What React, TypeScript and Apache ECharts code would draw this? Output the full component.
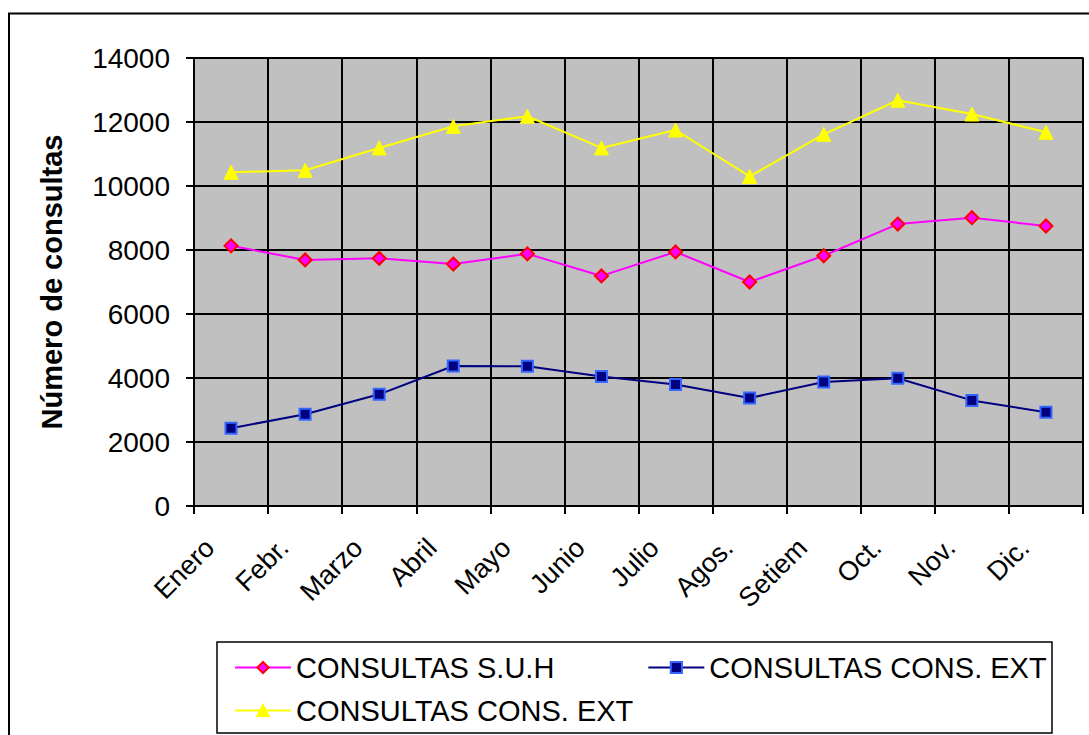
import React, { useEffect, useRef } from "react";
import * as echarts from "echarts";

const months = ["Enero", "Febr.", "Marzo", "Abril", "Mayo", "Junio", "Julio", "Agos.", "Setiem", "Oct.", "Nov.", "Dic."];
const consultasSUH = [8130, 7690, 7740, 7560, 7880, 7190, 7940, 7000, 7820, 8810, 9010, 8750];
const consultasConsExtA = [2430, 2870, 3490, 4375, 4365, 4050, 3800, 3375, 3875, 3990, 3300, 2930];
const consultasConsExtB = [10430, 10490, 11190, 11865, 12180, 11190, 11750, 10300, 11615, 12680, 12250, 11680];

const nameSUH = "CONSULTAS S.U.H";
const nameExtA = "CONSULTAS CONS. EXT";
const nameExtB = "CONSULTAS CONS. EXT ";

const FONT = "Liberation Sans, Arial, sans-serif";

export default function App() {
  const ref = useRef<HTMLDivElement>(null);

  useEffect(() => {
    if (!ref.current) return;
    const chart = echarts.init(ref.current, null, { renderer: "svg" });
    const legendText = { fontSize: 29, color: "#000", fontFamily: FONT };
    chart.setOption({
      animation: false,
      backgroundColor: "#fff",
      textStyle: { fontFamily: FONT },
      grid: {
        left: 194,
        top: 58,
        right: 6,
        bottom: 229,
        show: true,
        backgroundColor: "#C0C0C0",
        borderColor: "#808080",
        borderWidth: 2,
      },
      graphic: [
        {
          type: "rect",
          z: -10,
          shape: { x: 9, y: 13.5, width: 1100, height: 800 },
          style: { fill: "none", stroke: "#000", lineWidth: 2 },
        },
        {
          type: "rect",
          z: -5,
          shape: { x: 217, y: 642, width: 835, height: 91 },
          style: { fill: "#fff", stroke: "#000", lineWidth: 1.5 },
        },
      ],
      legend: [
        {
          data: [nameSUH, nameExtA],
          left: 229,
          top: 648,
          orient: "horizontal",
          itemGap: 93,
          itemWidth: 56,
          itemHeight: 14,
          textStyle: legendText,
          formatter: (n: string) => n.trim(),
        },
        {
          data: [nameExtB],
          left: 229,
          top: 691,
          orient: "horizontal",
          itemWidth: 56,
          itemHeight: 14,
          textStyle: legendText,
          formatter: (n: string) => n.trim(),
        },
      ],
      xAxis: {
        type: "category",
        data: months,
        boundaryGap: true,
        axisLine: { show: true, lineStyle: { color: "#000", width: 2 } },
        axisTick: { show: true, length: 8, lineStyle: { color: "#000", width: 2 } },
        axisLabel: {
          rotate: 45,
          fontSize: 27,
          color: "#000",
          margin: 16,
          fontFamily: FONT,
          padding: [0, 30, 0, 0],
        },
        splitLine: { show: true, lineStyle: { color: "#000", width: 2 } },
      },
      yAxis: {
        type: "value",
        min: 0,
        max: 14000,
        interval: 2000,
        name: "Número de consultas",
        nameLocation: "middle",
        nameGap: 128,
        nameTextStyle: { fontSize: 29, fontWeight: "bold", color: "#000", fontFamily: FONT },
        axisLine: { show: true, lineStyle: { color: "#000", width: 2 } },
        axisTick: { show: true, length: 8, lineStyle: { color: "#000", width: 2 } },
        axisLabel: {
          fontSize: 28,
          color: "#000",
          margin: 24,
          fontFamily: FONT,
          formatter: (v: number) => String(v),
        },
        splitLine: { show: true, lineStyle: { color: "#000", width: 2 } },
      },
      series: [
        {
          name: nameSUH,
          type: "line",
          data: consultasSUH,
          symbol: "diamond",
          symbolSize: 13,
          lineStyle: { color: "#FF00FF", width: 2 },
          itemStyle: { color: "#FF00FF", borderColor: "#FF0000", borderWidth: 2 },
        },
        {
          name: nameExtA,
          type: "line",
          data: consultasConsExtA,
          symbol: "rect",
          symbolSize: 11,
          lineStyle: { color: "#000080", width: 2 },
          itemStyle: { color: "#000080", borderColor: "#3366FF", borderWidth: 2 },
        },
        {
          name: nameExtB,
          type: "line",
          data: consultasConsExtB,
          symbol: "triangle",
          symbolSize: 14,
          lineStyle: { color: "#FFFF00", width: 2 },
          itemStyle: { color: "#FFFF00", borderColor: "#FFFF00", borderWidth: 1 },
        },
      ],
    });
    return () => chart.dispose();
  }, []);

  return (
    <div
      ref={ref}
      style={{ position: "fixed", left: 0, top: 0, width: 1089, height: 735 }}
    />
  );
}
